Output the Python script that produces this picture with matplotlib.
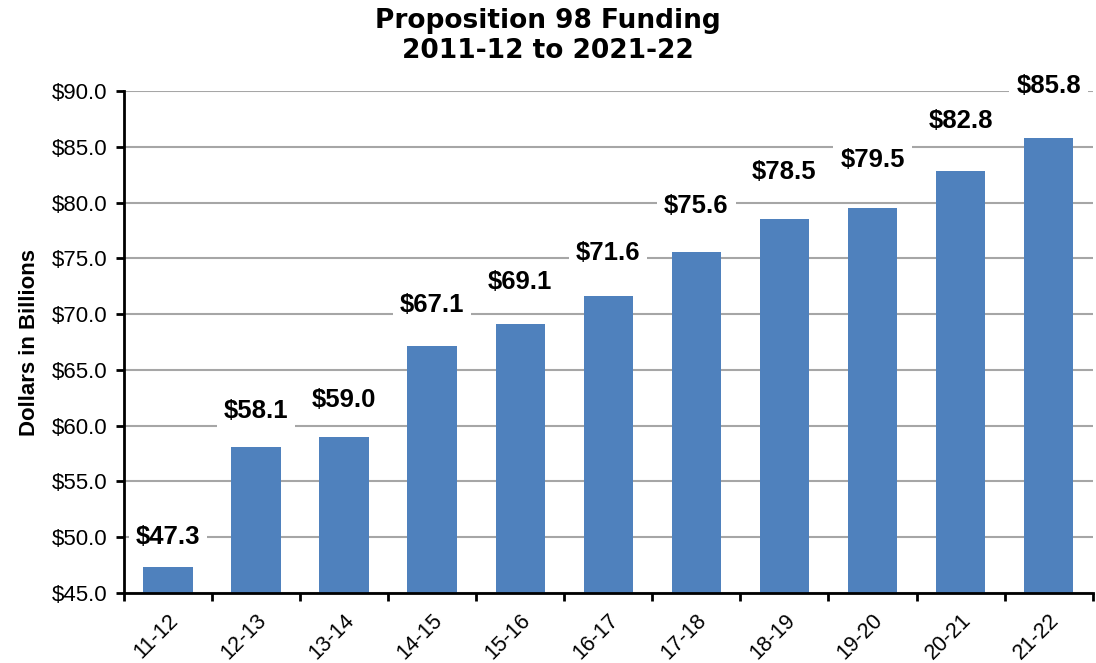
import matplotlib.pyplot as plt
import numpy as np

# data
years = ['11-12', '12-13', '13-14', '14-15', '15-16', '16-17',
         '17-18', '18-19', '19-20', '20-21', '21-22']
funding = [47.3, 58.1, 59.0, 67.1, 69.1, 71.6, 75.6, 78.5, 79.5, 82.8, 85.8]

plt.rcParams['font.family'] = ['Liberation Sans', 'DejaVu Sans']

fig = plt.figure(figsize=(10.96, 6.63), dpi=100)
ax = fig.add_axes([0.113, 0.1056, 0.884, 0.7571])

x = np.arange(len(years))
ax.bar(x, funding, width=0.56, color='#4F81BD', zorder=2)

# value labels with white boxes that hide the gridlines
for xi, v in zip(x, funding):
    ax.text(xi, v + 2.7 + 0.05 * (v - funding[0]), f'${v:.1f}',
            ha='center', va='center', fontsize=18.5, fontweight='bold',
            bbox=dict(facecolor='white', edgecolor='none', pad=5), zorder=3)

ax.set_ylim(45, 90)
ax.set_xlim(-0.5, len(years) - 0.5)
ax.set_yticks(np.arange(45, 90.1, 5))
ax.set_yticklabels([f'${t:.1f}' for t in np.arange(45, 90.1, 5)], fontsize=16)
ax.set_xticks(x)
ax.set_xticklabels(years, rotation=45, ha='right', rotation_mode='anchor', fontsize=15.5)
ax.set_xticks(np.arange(-0.5, len(years)), minor=True)
ax.tick_params(axis='x', which='major', length=0, pad=12)
ax.tick_params(axis='x', which='minor', length=6, width=2, direction='out')
ax.tick_params(axis='y', length=6, width=2, direction='out', pad=6)

ax.yaxis.grid(True, color='#A6A6A6', linewidth=1.5, zorder=0)
ax.set_axisbelow(True)
for s in ['top', 'right']:
    ax.spines[s].set_visible(False)
ax.spines['left'].set_linewidth(2)
ax.spines['bottom'].set_linewidth(2)

ax.set_ylabel('Dollars in Billions', fontsize=16, fontweight='bold', labelpad=8)
fig.text(0.5, 0.945, 'Proposition 98 Funding\n2011-12 to 2021-22', ha='center', va='center',
         fontsize=19, fontweight='bold', family=['DejaVu Sans'], linespacing=1.2)

fig.savefig('out.png', dpi=100)
